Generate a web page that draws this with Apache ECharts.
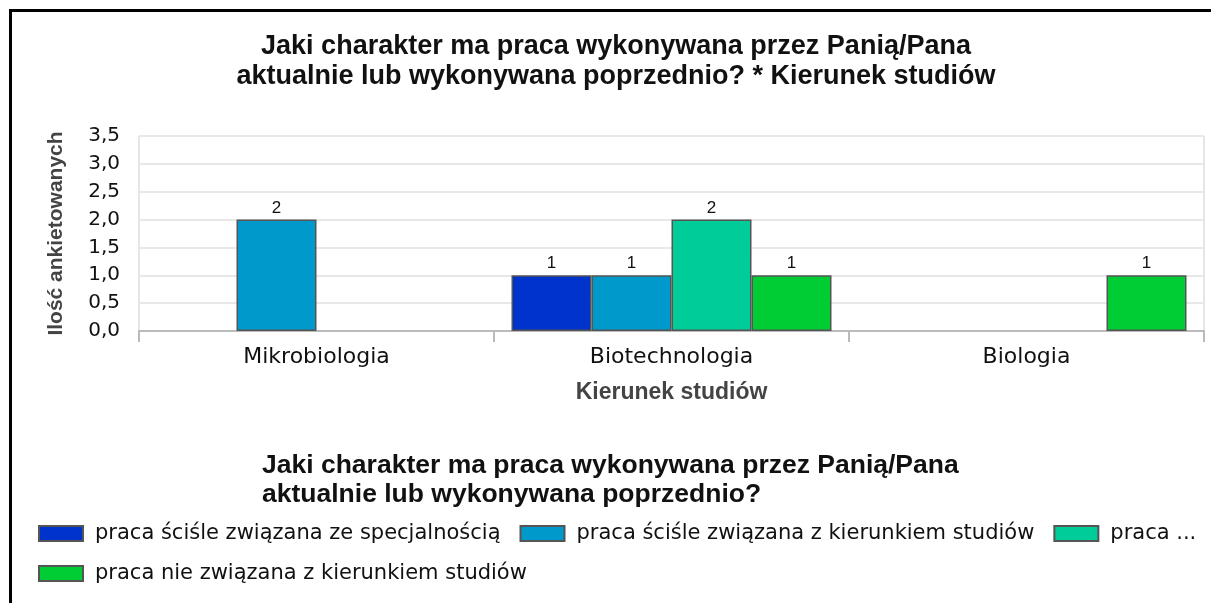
<!DOCTYPE html>
<html>
<head>
<meta charset="utf-8">
<script src="https://cdn.jsdelivr.net/npm/echarts@6/dist/echarts.min.js"></script>
<style>
  html, body { margin: 0; padding: 0; background: #fff; }
  #charts { width: 1211px; height: 603px; }
</style>
</head>
<body>
<div id="charts"></div>
<script>
const categories = ['Mikrobiologia', 'Biotechnologia', 'Biologia'];
const seriesNames = [
    'praca ściśle związana ze specjalnością',
    'praca ściśle związana z kierunkiem studiów',
    'praca luźno związana z kierunkiem studiów',
    'praca nie związana z kierunkiem studiów'
];
const seriesColors = ['#0033cc', '#0099cc', '#00cc99', '#00cc33'];
// null = brak słupka
const values = [
    [null, 1, null],
    [2, 1, null],
    [null, 2, null],
    [null, 1, 1]
];
const yTicks = { min: 0, max: 3.5, interval: 0.5 };

const titleText = 'Jaki charakter ma praca wykonywana przez Panią/Pana\naktualnie lub wykonywana poprzednio? * Kierunek studiów';
const legendTitle = 'Jaki charakter ma praca wykonywana przez Panią/Pana\naktualnie lub wykonywana poprzednio?';

const option = {
    animation: false,
    title: [{
        text: titleText,
        left: 611,
        top: 27,
        textAlign: 'center',
        textStyle: {
            fontFamily: 'Liberation Sans',
            fontWeight: 'bold',
            fontSize: 27,
            lineHeight: 30,
            color: '#111'
        }
    }, {
        text: legendTitle,
        left: 257,
        top: 446,
        textStyle: {
            fontFamily: 'Liberation Sans',
            fontWeight: 'bold',
            fontSize: 26.5,
            lineHeight: 29,
            color: '#111'
        }
    }],
    graphic: [{
        type: 'rect',
        shape: { x: 10.5, y: 10.5, width: 1400, height: 800 },
        style: { fill: 'none', stroke: '#000', lineWidth: 3 },
        silent: true
    }],
    grid: {
        show: true,
        left: 139,
        top: 136,
        right: 7,
        bottom: 272,
        borderColor: '#cccccc',
        borderWidth: 1
    },
    legend: {
        left: 33,
        top: 518,
        width: 1175,
        itemWidth: 44,
        itemHeight: 15,
        itemGap: 19,
        icon: 'rect',
        formatter: function (name) {
            return name === seriesNames[2] ? 'praca ...' : name;
        },
        textStyle: {
            fontFamily: 'DejaVu Sans',
            fontSize: 21,
            color: '#111',
            padding: [0, 0, 0, 7],
            lineHeight: 17
        },
        data: seriesNames
    },
    xAxis: {
        type: 'category',
        data: categories,
        name: 'Kierunek studiów',
        nameLocation: 'middle',
        nameGap: 50,
        nameTextStyle: {
            fontFamily: 'Liberation Sans',
            fontWeight: 'bold',
            fontSize: 23,
            color: '#444'
        },
        axisLine: { show: true, lineStyle: { color: '#bbbbbb', width: 2 } },
        axisTick: { show: true, length: 11, lineStyle: { color: '#bbbbbb', width: 2 } },
        axisLabel: {
            margin: 15,
            fontFamily: 'DejaVu Sans',
            fontSize: 22,
            color: '#111'
        }
    },
    yAxis: {
        type: 'value',
        min: yTicks.min,
        max: yTicks.max,
        interval: yTicks.interval,
        name: 'Ilość ankietowanych',
        nameLocation: 'middle',
        nameGap: 72,
        nameRotate: 90,
        nameTextStyle: {
            fontFamily: 'Liberation Sans',
            fontWeight: 'bold',
            fontSize: 21,
            color: '#444'
        },
        axisLine: { show: false },
        axisTick: { show: false },
        splitLine: { lineStyle: { color: '#e8e8e8', width: 2 } },
        axisLabel: {
            margin: 19,
            fontFamily: 'DejaVu Sans',
            fontSize: 20,
            color: '#111',
            formatter: function (v) {
                return v.toFixed(1).replace('.', ',');
            }
        }
    },
    series: seriesNames.map(function (name, i) {
        return {
            type: 'bar',
            name: name,
            data: values[i],
            barWidth: 80,
            barGap: '0%',
            itemStyle: {
                color: seriesColors[i],
                borderColor: '#555555',
                borderWidth: 1.5
            },
            label: {
                show: true,
                position: 'top',
                distance: 3,
                fontFamily: 'Liberation Sans',
                fontSize: 17,
                color: '#111'
            }
        };
    })
};
const chart = echarts.init(document.getElementById('charts'));
chart.setOption(option);
</script>
</body>
</html>
